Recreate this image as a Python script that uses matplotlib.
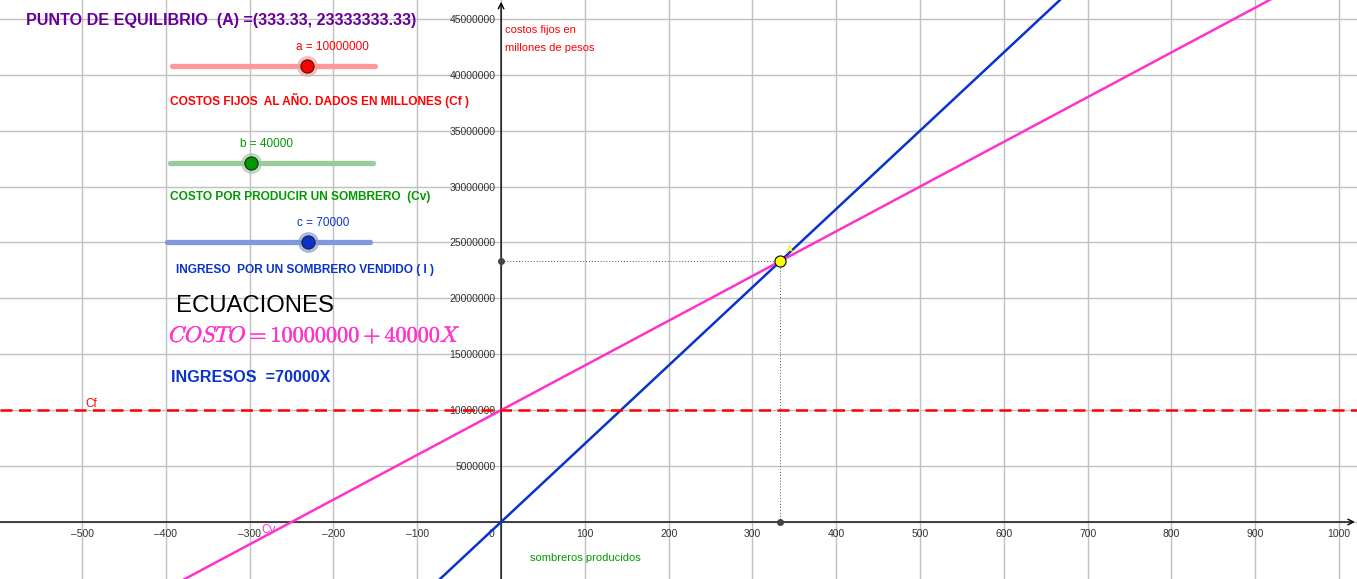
import numpy as np
import matplotlib
matplotlib.use("Agg")
import matplotlib.pyplot as plt
import matplotlib.patheffects as pe

plt.rcParams['font.family'] = ['Liberation Sans', 'DejaVu Sans']
plt.rcParams['mathtext.fontset'] = 'cm'

# slider values
a = 10000000   # costos fijos
b = 40000      # costo por sombrero
c = 70000      # ingreso por sombrero

x_ticks = [-500, -400, -300, -200, -100, 0, 100, 200, 300, 400, 500, 600, 700, 800, 900, 1000]
y_ticks = [5000000, 10000000, 15000000, 20000000, 25000000, 30000000, 35000000, 40000000, 45000000]

xmin, xmax = -598, 1021.5
ymin, ymax = -5.1e6, 46.69e6

W, H = 1357, 579
fig = plt.figure(figsize=(W / 100, H / 100), dpi=100)
ax = fig.add_axes([0, 0, 1, 1])
ax.set_xlim(xmin, xmax)
ax.set_ylim(ymin, ymax)


def px(x, y):
    # pixel position in the picture -> axes fraction
    return x / W, 1 - y / H


# grid
grid_x = np.arange(-500, 1001, 100)
grid_y = np.arange(0, 45000001, 5000000)
for gx in grid_x:
    ax.axvline(gx, color='#c0c0c0', lw=1, zorder=0)
for gy in grid_y:
    ax.axhline(gy, color='#c0c0c0', lw=1, zorder=0)

# axes through origin
for s in ['top', 'right', 'left', 'bottom']:
    ax.spines[s].set_visible(False)
ax.spines['left'].set_position(('data', 0))
ax.spines['bottom'].set_position(('data', 0))
ax.annotate('', xy=(0.9985, 0), xytext=(0, 0), xycoords=ax.get_yaxis_transform(),
            arrowprops=dict(arrowstyle='->', lw=1, color='black', shrinkA=0, shrinkB=0))
ax.annotate('', xy=(0, 0.997), xytext=(0, 0), xycoords=ax.get_xaxis_transform(),
            arrowprops=dict(arrowstyle='->', lw=1, color='black', shrinkA=0, shrinkB=0))

xlabels = ['' if v == 0 else str(v).replace('-', '\u2013') for v in x_ticks]
ax.set_xticks(x_ticks)
ax.set_xticklabels(xlabels)
ax.set_yticks(y_ticks)
ax.set_yticklabels([str(v) for v in y_ticks])
ax.tick_params(axis='x', length=0, pad=5, labelsize=7.5, labelcolor='#333333')
ax.tick_params(axis='y', length=0, pad=4, labelsize=7.5, labelcolor='#333333')
ax.text(-8, 0, '0', ha='right', va='top', fontsize=7.5, color='#333333',
        transform=ax.transData + matplotlib.transforms.ScaledTranslation(0, -5 / 72, fig.dpi_scale_trans))

# lines
xs = np.array([xmin, xmax])
ax.plot(xs, c * xs, color='#0a33cc', lw=1.8, zorder=3, solid_capstyle='butt')
ax.plot(xs, a + b * xs, color='#ff33cc', lw=1.8, zorder=3, solid_capstyle='butt')
ax.axhline(a, color='#ff0000', lw=1.8, ls=(0, (4.8, 2.6)), zorder=3)

# equilibrium point
xa = a / (c - b)
ya = c * xa
ax.plot([0, xa], [ya, ya], color='#555555', lw=0.7, ls=(0, (1, 2)), zorder=2)
ax.plot([xa, xa], [0, ya], color='#555555', lw=0.7, ls=(0, (1, 2)), zorder=2)
ax.plot([xa, 0], [0, ya], 'o', color='#444444', ms=4, ls='none', zorder=4)
ax.plot([xa], [ya], 'o', mfc='#ffff00', mec='black', mew=0.8, ms=8, zorder=5)
ax.annotate('A', (xa, ya), xytext=(4, 6), textcoords='offset points',
            color='#ffee00', fontsize=8)

# sliders
sliders = [
    ('a = 10000000', 172, 375, 66, 307, '#ff9999', '#ff0000', 332, 47),
    ('b = 40000', 170, 373, 163, 251, '#99cc99', '#009900', 267, 144),
    ('c = 70000', 167, 370, 242, 308, '#8099dd', '#0a33cc', 323, 223),
]
for lab, x0, x1, yy, kx, tcol, kcol, lx, ly in sliders:
    ax.plot([px(x0, yy)[0], px(x1, yy)[0]], [px(x0, yy)[1]] * 2, color=tcol, lw=3.8,
            solid_capstyle='round', transform=ax.transAxes, zorder=6)
    ax.plot(*px(kx, yy), 'o', color=tcol, ms=14, alpha=0.6, transform=ax.transAxes, zorder=7)
    ax.plot(*px(kx, yy), 'o', mfc=kcol, mec='#222222', mew=0.8, ms=9.5, transform=ax.transAxes, zorder=8)
    ax.text(*px(lx, ly), lab, color=kcol, fontsize=8.5, ha='center', va='center',
            transform=ax.transAxes, zorder=8)

# texts
ax.text(*px(26, 20), 'PUNTO DE EQUILIBRIO  (A) =(%.2f, %.2f)' % (xa, ya), color='#660099',
        fontsize=11.6, fontweight='bold', va='center', transform=ax.transAxes)
ax.text(*px(170, 100), 'COSTOS FIJOS  AL AÑO. DADOS EN MILLONES (Cf )', color='#ff0000',
        fontsize=8.6, fontweight='bold', va='center', transform=ax.transAxes)
ax.text(*px(170, 197), 'COSTO POR PRODUCIR UN SOMBRERO  (Cv)', color='#009900',
        fontsize=8.6, fontweight='bold', va='center', transform=ax.transAxes)
ax.text(*px(176, 270), 'INGRESO  POR UN SOMBRERO VENDIDO ( I )', color='#0a33cc',
        fontsize=8.6, fontweight='bold', va='center', transform=ax.transAxes)
ax.text(*px(176, 306), 'ECUACIONES', color='black', fontsize=17.2, va='center',
        transform=ax.transAxes)
ax.text(*px(169, 336), r'$COSTO = %d + %dX$' % (a, b), color='#ff33cc', fontsize=16,
        va='center', transform=ax.transAxes,
        path_effects=[pe.withStroke(linewidth=0.3, foreground='#ff33cc')])
ax.text(*px(171, 378), 'INGRESOS  =%dX' % c, color='#0a33cc', fontsize=11.6,
        fontweight='bold', va='center', transform=ax.transAxes)
ax.text(*px(85, 404), 'Cf', color='#ff0000', fontsize=8.5, va='center', transform=ax.transAxes)
ax.text(*px(261, 530), 'Cv', color='#ff33cc', fontsize=8.5, va='center', transform=ax.transAxes)
ax.text(*px(505, 30), 'costos fijos en', color='#ff0000', fontsize=8, va='center',
        transform=ax.transAxes)
ax.text(*px(505, 48), 'millones de pesos', color='#ff0000', fontsize=8, va='center',
        transform=ax.transAxes)
ax.text(*px(530, 558), 'sombreros producidos', color='#009900', fontsize=8, va='center',
        transform=ax.transAxes)

fig.savefig('out.png', dpi=100)
